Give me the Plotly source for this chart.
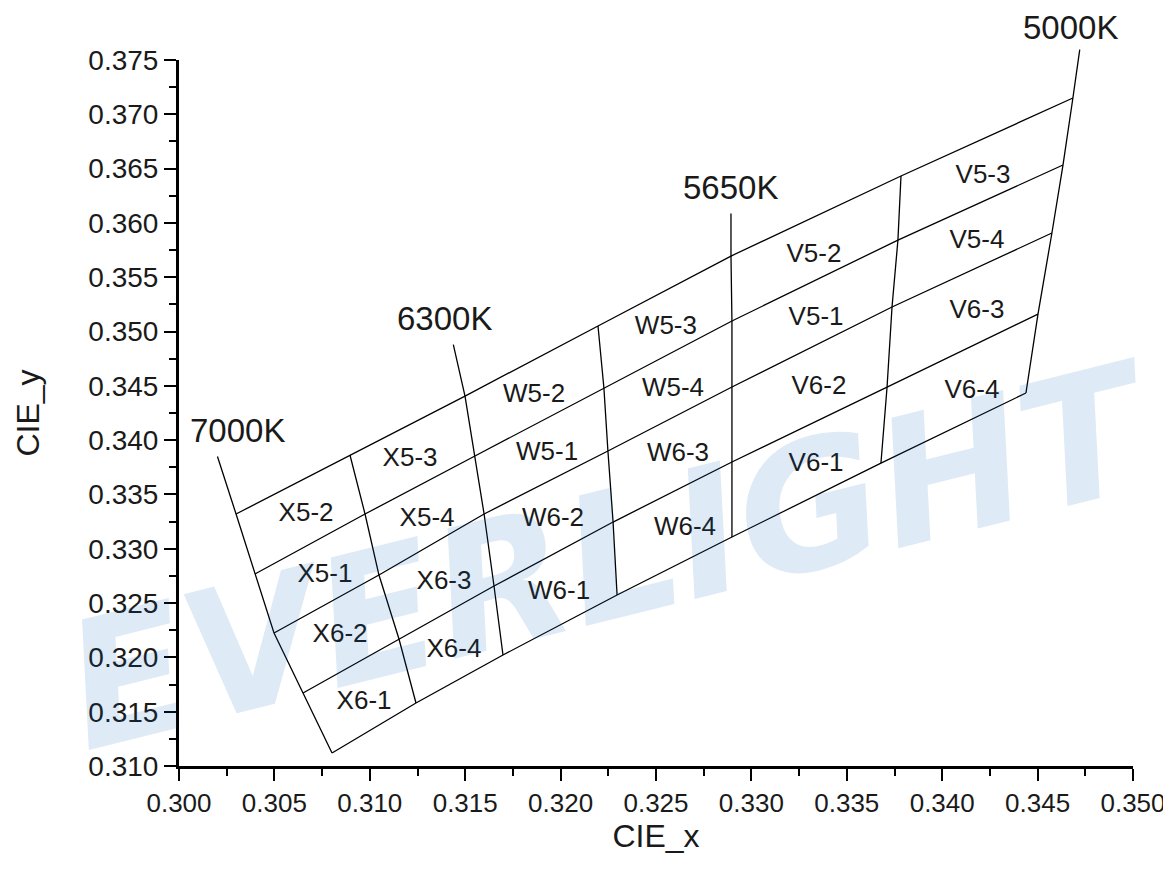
import plotly.graph_objects as go

# ---- bin boundary lines (CIE x, y), from 7000K side to 5000K side, top to bottom ----
b0_x = [0.30299, 0.30398, 0.30498, 0.30650, 0.30802]
b0_y = [0.33320, 0.32768, 0.32224, 0.31672, 0.31120]
b1_x = [0.30896, 0.30975, 0.31048, 0.31153, 0.31242]
b1_y = [0.33863, 0.33320, 0.32758, 0.32169, 0.31580]
b2_x = [0.31499, 0.31551, 0.31599, 0.31651, 0.31698]
b2_y = [0.34406, 0.33854, 0.33320, 0.32657, 0.32022]
b3_x = [0.32196, 0.32227, 0.32248, 0.32275, 0.32296]
b3_y = [0.35051, 0.34480, 0.33900, 0.33246, 0.32574]
b4_x = [0.32893, 0.32898, 0.32898, 0.32898, 0.32898]
b4_y = [0.35695, 0.35097, 0.34489, 0.33799, 0.33108]
b5_x = [0.33784, 0.33768, 0.33737, 0.33711, 0.33679]
b5_y = [0.36432, 0.35842, 0.35226, 0.34489, 0.33789]
b6_x = [0.34685, 0.34633, 0.34575, 0.34502, 0.34439]
b6_y = [0.37150, 0.36533, 0.35907, 0.35161, 0.34434]

# ---- CCT leader lines: tip point, joined to the top of its boundary line ----
cct_names = ["7000K", "6300K", "5650K", "5000K"]
cct_line_index = [0, 2, 4, 6]
cct_tip_x = [0.30199, 0.31436, 0.32893, 0.34722]
cct_tip_y = [0.33863, 0.34894, 0.36100, 0.37610]
cct_label_x = [0.30309, 0.31389, 0.32893, 0.34675]
cct_label_y = [0.34093, 0.35124, 0.36330, 0.37803]

# ---- bin names and label positions ----
bin_names = ["X5-2", "X5-1", "X6-2", "X6-1", "X5-3", "X5-4", "X6-3", "X6-4",
             "W5-2", "W5-1", "W6-2", "W6-1", "W5-3", "W5-4", "W6-3", "W6-4",
             "V5-2", "V5-1", "V6-2", "V6-1", "V5-3", "V5-4", "V6-3", "V6-4"]
bin_label_x = [0.30666, 0.30765, 0.30844, 0.30970, 0.31211, 0.31300, 0.31389, 0.31441,
               0.31861, 0.31929, 0.31960, 0.31992, 0.32552, 0.32589, 0.32615, 0.32652,
               0.33328, 0.33339, 0.33354, 0.33339, 0.34214, 0.34182, 0.34182, 0.34156]
bin_label_y = [0.33320, 0.32758, 0.32206, 0.31589, 0.33826, 0.33274, 0.32685, 0.32068,
               0.34415, 0.33881, 0.33274, 0.32593, 0.35041, 0.34471, 0.33872, 0.33191,
               0.35704, 0.35124, 0.34489, 0.33780, 0.36432, 0.35833, 0.35189, 0.34452]

x_ticks = [0.300, 0.305, 0.310, 0.315, 0.320, 0.325, 0.330, 0.335, 0.340, 0.345, 0.350]
y_ticks = [0.310, 0.315, 0.320, 0.325, 0.330, 0.335, 0.340, 0.345, 0.350, 0.355,
           0.360, 0.365, 0.370, 0.375]

X_RANGE = [0.300, 0.350]
Y_RANGE = [0.310, 0.375]

lines_x = [b0_x, b1_x, b2_x, b3_x, b4_x, b5_x, b6_x]
lines_y = [b0_y, b1_y, b2_y, b3_y, b4_y, b5_y, b6_y]

gx, gy = [], []
for lx, ly in zip(lines_x, lines_y):
    gx += lx + [None]
    gy += ly + [None]
for r in range(len(b0_x)):
    gx += [lx[r] for lx in lines_x] + [None]
    gy += [ly[r] for ly in lines_y] + [None]

FONT = "Liberation Sans, Arial, sans-serif"
TXT = "#1a1a1a"

W, H = 1163, 864
M = dict(l=171, r=38, t=52, b=106)
plot_h = H - M["t"] - M["b"]
px_per_y = plot_h / (Y_RANGE[1] - Y_RANGE[0])

fig = go.Figure()
fig.add_trace(go.Scatter(x=gx, y=gy, mode="lines",
                         line=dict(color="black", width=1.3),
                         hoverinfo="skip", showlegend=False))
fig.add_trace(go.Scatter(x=bin_label_x, y=bin_label_y, mode="text", text=bin_names,
                         textfont=dict(family=FONT, size=26, color=TXT),
                         cliponaxis=False, hoverinfo="skip", showlegend=False))

# watermark
fig.add_annotation(text="<b><i>EVERLIGHT</i></b>", xref="paper", yref="paper",
                   x=0.453, y=-0.04, showarrow=False, textangle=-14,
                   font=dict(family="DejaVu Sans", size=176, color="rgba(0,90,180,0.13)"))

# CCT leader lines and labels
for i, idx in enumerate(cct_line_index):
    fig.add_annotation(x=lines_x[idx][0], y=lines_y[idx][0], xref="x", yref="y",
                       ax=cct_tip_x[i], ay=cct_tip_y[i], axref="x", ayref="y",
                       text="", showarrow=True, arrowhead=0, arrowwidth=1.3,
                       arrowcolor="black", standoff=0, startstandoff=0)
    ly = cct_label_y[i]
    ly_in = min(ly, Y_RANGE[1] - 0.0001)   # keep the anchor inside the axis range
    fig.add_annotation(x=cct_label_x[i], y=ly_in, xref="x", yref="y",
                       yshift=(ly - ly_in) * px_per_y,
                       text=cct_names[i], showarrow=False, xanchor="center", yanchor="middle",
                       font=dict(family=FONT, size=33, color=TXT))

axis_common = dict(showline=True, linecolor="black", linewidth=3,
                   ticks="outside", ticklen=12, tickwidth=2, tickcolor="black",
                   showgrid=False, zeroline=False, mirror=False,
                   tickformat=".3f")

fig.update_xaxes(range=X_RANGE, tickvals=x_ticks,
                 tickfont=dict(family=FONT, size=26, color=TXT),
                 minor=dict(dtick=0.0025, tick0=0.300, ticks="outside", ticklen=7,
                            tickwidth=2, tickcolor="black", showgrid=False),
                 title=dict(text="CIE_x", font=dict(family=FONT, size=32, color=TXT),
                            standoff=0),
                 **axis_common)
fig.update_yaxes(range=Y_RANGE, tickvals=y_ticks,
                 tickfont=dict(family=FONT, size=28, color=TXT),
                 minor=dict(dtick=0.0025, tick0=0.310, ticks="outside", ticklen=7,
                            tickwidth=2, tickcolor="black", showgrid=False),
                 title=dict(text="CIE_y", font=dict(family=FONT, size=32, color=TXT),
                            standoff=40),
                 **axis_common)

# page body has an 8 px margin, so the figure is shrunk by that amount
fig.update_layout(width=W, height=H,
                  margin=dict(**M, autoexpand=False),
                  plot_bgcolor="white", paper_bgcolor="white")

fig.write_html("out.html")
